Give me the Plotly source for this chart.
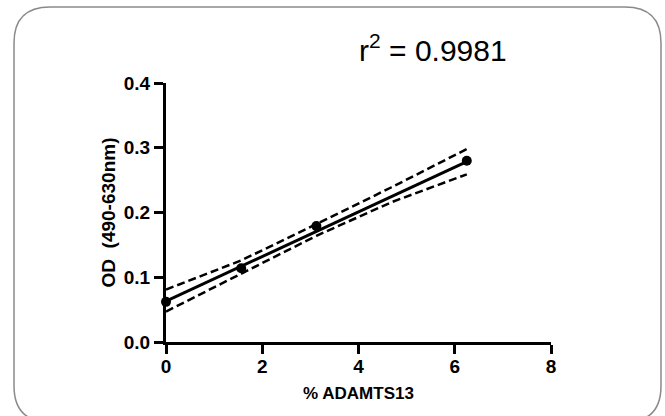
import plotly.graph_objects as go

# measured standards
pct_adamts13 = [0, 1.5625, 3.125, 6.25]
od_values = [0.062, 0.114, 0.179, 0.280]

# linear fit and 95% confidence band
fit_x = [0, 6.25]
fit_y = [0.063, 0.2785]
band_x = [0, 1.5625, 3.125, 4.6875, 6.25]
band_upper = [0.081, 0.126, 0.182, 0.239, 0.298]
band_lower = [0.047, 0.106, 0.164, 0.216, 0.259]

x_ticks = [0, 2, 4, 6, 8]
y_ticks = [0.0, 0.1, 0.2, 0.3, 0.4]

W, H = 665, 416
L, R, T, B = 166, 551, 83, 342  # plot area in pixels


def px(x):
    return (x - L) / (R - L)


def py(y):
    return (B - y) / (B - T)


def rounded_box(x0, y0, x1, y1, r):
    rx, ry = r / (R - L), r / (B - T)
    a, b, c, d = px(x0), py(y0), px(x1), py(y1)
    return (f"M {a + rx} {b} L {c - rx} {b} Q {c} {b} {c} {b - ry} "
            f"L {c} {d + ry} Q {c} {d} {c - rx} {d} "
            f"L {a + rx} {d} Q {a} {d} {a} {d + ry} "
            f"L {a} {b - ry} Q {a} {b} {a + rx} {b} Z")


fig = go.Figure()

for ys in (band_upper, band_lower):
    fig.add_trace(go.Scatter(x=band_x, y=ys, mode="lines",
                             line=dict(color="black", width=2.5, dash="8px,4px"),
                             hoverinfo="skip", cliponaxis=False))

fig.add_trace(go.Scatter(x=fit_x, y=fit_y, mode="lines",
                         line=dict(color="black", width=3), cliponaxis=False))

fig.add_trace(go.Scatter(x=pct_adamts13, y=od_values, mode="markers",
                         marker=dict(color="black", size=10), cliponaxis=False))

fig.add_shape(type="path", xref="paper", yref="paper",
              path=rounded_box(14, 7, 661, 422, 36),
              line=dict(color="#8a8a8a", width=1.5), layer="below")

fig.add_annotation(text="r<sup>2</sup> = 0.9981", xref="paper", yref="paper",
                   x=px(433), y=py(48), xanchor="center", yanchor="middle",
                   showarrow=False,
                   font=dict(size=30, color="black", family="Liberation Sans"))

axis_common = dict(showline=True, linecolor="black", linewidth=3, mirror=False,
                   ticks="outside", ticklen=9, tickwidth=3, tickcolor="black",
                   showgrid=False, zeroline=False,
                   tickfont=dict(size=19, color="black", family="Liberation Sans", weight="bold"))

fig.update_xaxes(range=[0, 8], tickvals=x_ticks, ticklabelstandoff=-4, **axis_common,
                 title=dict(text="% ADAMTS13", standoff=12,
                            font=dict(size=17, color="black", family="Liberation Sans", weight="bold")))
fig.update_yaxes(range=[0, 0.4], tickvals=y_ticks, tickformat=".1f", **axis_common,
                 title=dict(text="OD\u00a0\u00a0(490-630nm)", standoff=4,
                            font=dict(size=19, color="black", family="Liberation Sans", weight="bold")))

fig.update_layout(width=W, height=H, showlegend=False,
                  plot_bgcolor="white", paper_bgcolor="white",
                  margin=dict(l=L, r=W - R, t=T, b=H - B))

fig.write_html("out.html", config={"displayModeBar": False},
               post_script="document.body.style.margin='0';")
